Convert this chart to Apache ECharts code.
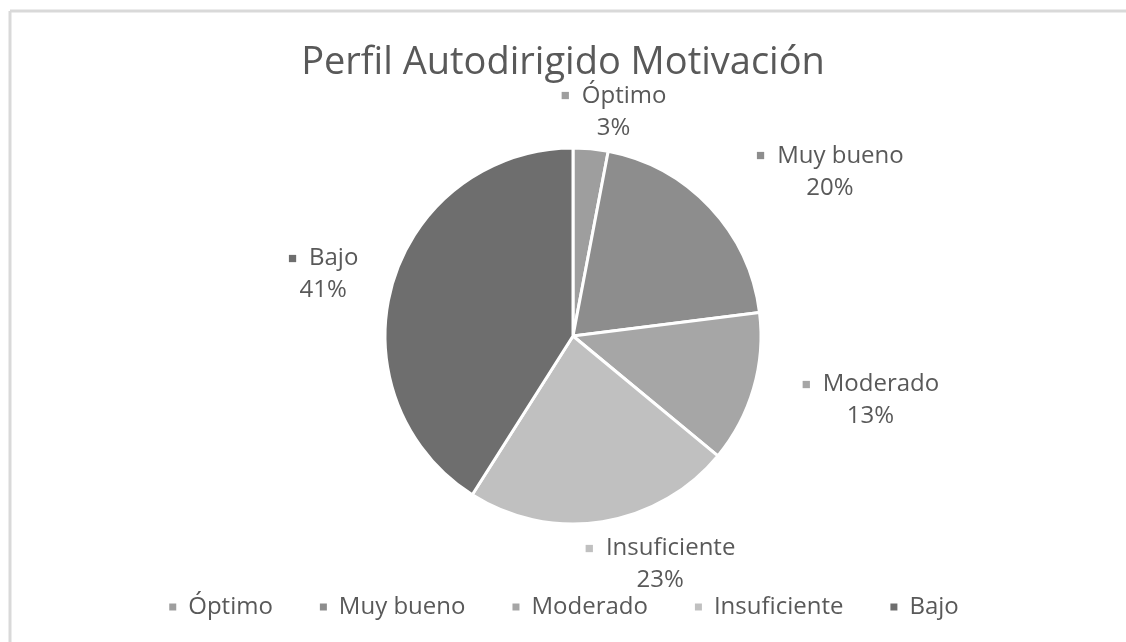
<!DOCTYPE html>
<html>
<head>
<meta charset="utf-8">
<title>Perfil Autodirigido Motivación</title>
<script src="https://cdn.jsdelivr.net/npm/echarts@6/dist/echarts.min.js"></script>
<style>
    html, body { margin: 0; padding: 0; background: #fff; }
    #chart { width: 1126px; height: 642px; }
</style>
</head>
<body>
<div id="chart"></div>
<script>
    // datos
    var categorias = ['Óptimo', 'Muy bueno', 'Moderado', 'Insuficiente', 'Bajo'];
    var porcentajes = [3, 20, 13, 23, 41];
    var colores = ['#9e9e9e', '#8d8d8d', '#a6a6a6', '#c0c0c0', '#6e6e6e'];

    // ajuste fino de las etiquetas (como las coloca Excel)
    var desplazX = [-37, 25, 22, -26, -8];
    var desplazY = [-15, -20, 6, 21, -3];

    var fuente = '"Open Sans", "Noto Sans", sans-serif';

    var chart = echarts.init(document.getElementById('chart'), null, { renderer: 'canvas' });

    var datos = [];
    var rich = { n: { fontSize: 24, color: '#595959', fontFamily: fuente, align: 'center', lineHeight: 32 } };
    for (var i = 0; i < categorias.length; i++) {
        datos.push({ name: categorias[i], value: porcentajes[i] });
        rich['s' + i] = { fontSize: 15, color: colores[i], lineHeight: 32, padding: [0, 12, 0, 0] };
    }

    var option = {
        backgroundColor: '#fff',
        color: colores,
        title: {
            text: 'Perfil Autodirigido Motivación',
            left: 'center',
            top: 39,
            textStyle: { fontFamily: fuente, fontSize: 38, fontWeight: 'normal', color: '#595959' }
        },
        legend: {
            bottom: 18,
            left: 'center',
            icon: 'rect',
            itemWidth: 9,
            itemHeight: 9,
            itemGap: 45,
            textStyle: { fontFamily: fuente, fontSize: 24, color: '#595959', padding: [0, 0, 0, 6] },
            data: categorias
        },
        graphic: [
            { type: 'line', shape: { x1: 10, y1: 11, x2: 1126, y2: 11 }, style: { stroke: '#d9d9d9', lineWidth: 3 } },
            { type: 'line', shape: { x1: 10, y1: 11, x2: 10, y2: 642 }, style: { stroke: '#d9d9d9', lineWidth: 3 } }
        ],
        series: [
            {
                type: 'pie',
                center: [573, 336],
                radius: 188,
                startAngle: 90,
                clockwise: true,
                avoidLabelOverlap: false,
                itemStyle: { borderColor: '#fff', borderWidth: 3 },
                label: {
                    show: true,
                    position: 'outside',
                    formatter: function (p) {
                        return '{s' + p.dataIndex + '|■}{n|' + p.name + '}\n{n|' + p.value + '%}';
                    },
                    rich: rich,
                    align: 'center'
                },
                labelLine: { show: false, length: 22, length2: 0 },
                labelLayout: function (params) {
                    return { dx: desplazX[params.dataIndex], dy: desplazY[params.dataIndex] };
                },
                data: datos
            }
        ]
    };

    chart.setOption(option);
</script>
</body>
</html>
